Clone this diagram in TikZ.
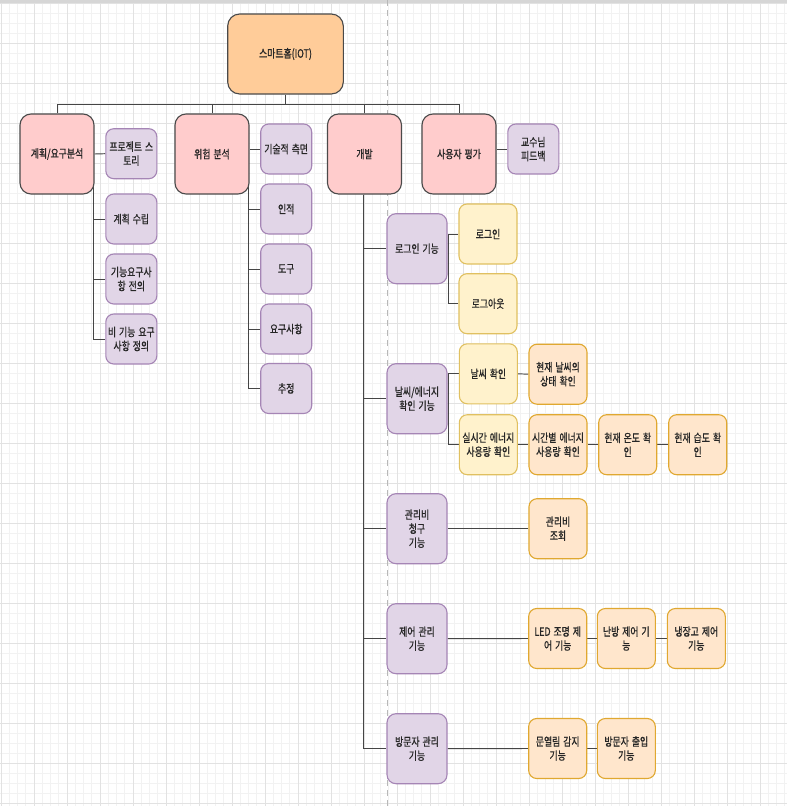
\documentclass[tikz,border=0pt]{standalone}
\usepackage{fontspec}
\setmainfont{Noto Sans CJK KR}[FakeStretch=0.77, FakeBold=0.9, WordSpace=1.5]
\usetikzlibrary{calc}
\pgfdeclarelayer{gridlayer}
\pgfdeclarelayer{edgelayer}
\pgfsetlayers{gridlayer,edgelayer,main}
\definecolor{minorg}{HTML}{F2F2F2}
\definecolor{majorg}{HTML}{E2E2E2}
\definecolor{topband}{HTML}{D6D6D6}
\definecolor{rootfill}{HTML}{FFCC99}
\definecolor{pinkfill}{HTML}{FFCCCC}
\definecolor{darkb}{HTML}{4A4A4A}
\definecolor{purpfill}{HTML}{E1D5E7}
\definecolor{purpdraw}{HTML}{A585B5}
\definecolor{yelfill}{HTML}{FFF2CC}
\definecolor{yeldraw}{HTML}{E0C060}
\definecolor{orafill}{HTML}{FFE6CC}
\definecolor{oradraw}{HTML}{E0A830}
\definecolor{wire}{HTML}{454545}
\tikzset{
  boxbase/.style={draw, line width=1.1pt, align=center, inner sep=0pt, text=black!85,
    font=\fontsize{11.5}{14}\selectfont},
  rootbox/.style={boxbase, rounded corners=12pt, fill=rootfill, draw=darkb, minimum width=115.6pt, minimum height=80pt},
  topbox/.style={boxbase, rounded corners=11pt, fill=pinkfill, draw=darkb, minimum width=74pt, minimum height=80pt},
  smallpurp/.style={boxbase, rounded corners=8pt, fill=purpfill, draw=purpdraw, minimum width=51pt, minimum height=50pt},
  devbox/.style={boxbase, rounded corners=9pt, fill=purpfill, draw=purpdraw, minimum width=60pt, minimum height=70pt},
  yelbox/.style={boxbase, rounded corners=8pt, fill=yelfill, draw=yeldraw, minimum width=58pt, minimum height=60pt},
  orabox/.style={boxbase, rounded corners=8pt, fill=orafill, draw=oradraw, minimum width=58pt, minimum height=60pt},
  link/.style={draw=wire, line width=0.95pt},
  minorline/.style={draw=minorg, line width=0.8pt},
  majorline/.style={draw=majorg, line width=1pt},
}
\begin{document}
\begin{tikzpicture}[x=1pt,y=-1pt]
\useasboundingbox (0,0) rectangle (787,806);
\begin{pgfonlayer}{gridlayer}
\fill[white] (0,0) rectangle (787,806);
\foreach \i in {0,...,95} \draw[minorline] ({1+8.25*\i},0) -- ++(0,806);
\foreach \j in {0,...,80} \draw[minorline] (0,{3.3+10*\j}) -- ++(787,0);
\foreach \i in {0,...,23} \draw[majorline] ({1+33*\i},0) -- ++(0,806);
\foreach \j in {0,...,20} \draw[majorline] (0,{3.3+40*\j}) -- ++(787,0);
\fill[topband] (0,0) rectangle (787,2.6);
\draw[draw=black!28, line width=1pt, dash pattern=on 6pt off 4pt] (387,0) -- (387,806);
\end{pgfonlayer}

% nodes
\node[rootbox] (root) at (285.5,54) {스마트홈(IOT)};
\node[topbox] (p1) at (57,154) {계획/요구분석};
\node[topbox] (p2) at (212,154) {위험 분석};
\node[topbox] (p3) at (364.5,154) {개발};
\node[topbox] (p4) at (459,154) {사용자 평가};

\node[smallpurp] (a1) at (131.3,153.7) {프로젝트 스\\토리};
\node[smallpurp] (a2) at (131.3,219) {계획 수립};
\node[smallpurp] (a3) at (131.3,279) {기능요구사\\항 전의};
\node[smallpurp] (a4) at (131.3,339) {비 기능 요구\\사항 정의};

\node[smallpurp] (b1) at (286.2,149) {기술적 측면};
\node[smallpurp] (b2) at (286.2,209) {인적};
\node[smallpurp] (b3) at (286.2,269) {도구};
\node[smallpurp] (b4) at (286.2,329) {요구사항};
\node[smallpurp] (b5) at (286.2,388.5) {추정};

\node[smallpurp] (fb) at (533.3,149) {교수님\\피드백};

\node[devbox] (c1) at (417,248.7) {로그인 기능};
\node[devbox] (c2) at (417,398.7) {날씨/에너지\\확인 기능};
\node[devbox] (c3) at (417,528.7) {관리비\\청구\\기능};
\node[devbox] (c4) at (417,638.7) {제어 관리\\기능};
\node[devbox] (c5) at (417,748.7) {방문자 관리\\기능};

\node[yelbox] (l1) at (488,234) {로그인};
\node[yelbox] (l2) at (488,303.7) {로그아웃};

\node[yelbox] (w1) at (488.3,373.8) {날씨 확인};
\node[orabox] (w2) at (558,374.2) {현재 날씨의\\상태 확인};
\node[yelbox] (e1) at (488.3,444.7) {실시간 에너지\\사용량 확인};
\node[orabox] (e2) at (558,444.7) {시간별 에너지\\사용량 확인};
\node[orabox] (e3) at (627.7,444.7) {현재 온도 확\\인};
\node[orabox] (e4) at (697.7,444.7) {현재 습도 확\\인};

\node[orabox] (m1) at (558,528.7) {관리비\\조회};

\node[orabox] (d1) at (557.7,638.5) {LED 조명 제\\어 기능};
\node[orabox] (d2) at (626.3,638.5) {난방 제어 기\\능};
\node[orabox] (d3) at (696.3,638.5) {냉장고 제어\\기능};

\node[orabox] (v1) at (557.7,748.5) {문열림 감지\\기능};
\node[orabox] (v2) at (626.3,748.5) {방문자 출입\\기능};

% connectors
\begin{pgfonlayer}{edgelayer}
\coordinate (bus) at (0,104);
\draw[link] (root.south) -- (root.south |- bus);
\draw[link] (p1.north) |- (bus -| p4.north) -- (p4.north);
\draw[link] (p2.north) -- (p2.north |- bus);
\draw[link] (p3.north) -- (p3.north |- bus);
% planning
\draw[link] (p1.east) -- (a1.west);
\draw[link] ($(a1.west)+(-11.3,0)$) |- (a4.west);
\draw[link] ($(a1.west)+(-11.3,0)$) |- (a2.west);
\draw[link] ($(a1.west)+(-11.3,0)$) |- (a3.west);
% risk
\draw[link] (b1.west) -- (b1.west -| p2.east);
\draw[link] ($(b1.west)+(-11.7,0)$) |- (b5.west);
\draw[link] ($(b1.west)+(-11.7,0)$) |- (b2.west);
\draw[link] ($(b1.west)+(-11.7,0)$) |- (b3.west);
\draw[link] ($(b1.west)+(-11.7,0)$) |- (b4.west);
% user eval
\draw[link] (fb.west) -- (fb.west -| p4.east);
% development spine
\draw[link] ($(p3.south)+(-1.5,0)$) |- (c5.west);
\draw[link] ($(p3.south)+(-1.5,0)$) |- (c1.west);
\draw[link] ($(p3.south)+(-1.5,0)$) |- (c2.west);
\draw[link] ($(p3.south)+(-1.5,0)$) |- (c3.west);
\draw[link] ($(p3.south)+(-1.5,0)$) |- (c4.west);
% login
\draw[link] (l1.west) -| ($(c1.east)+(0.6,0)$) |- (l2.west);
% weather
\draw[link] (w1.west) -| ($(c2.east)+(0.6,0)$) |- (e1.west);
\draw[link] (w1.east) -- (w2.west);
\draw[link] (e1.east) -- (e2.west);
\draw[link] (e2.east) -- (e3.west);
\draw[link] (e3.east) -- (e4.west);
% fees
\draw[link] (c3.east) -- (m1.west);
% control
\draw[link] (c4.east) -- (d1.west);
\draw[link] (d1.east) -- (d2.west);
\draw[link] (d2.east) -- (d3.west);
% visitor
\draw[link] (c5.east) -- (v1.west);
\draw[link] (v1.east) -- (v2.west);
\end{pgfonlayer}
\end{tikzpicture}
\end{document}
